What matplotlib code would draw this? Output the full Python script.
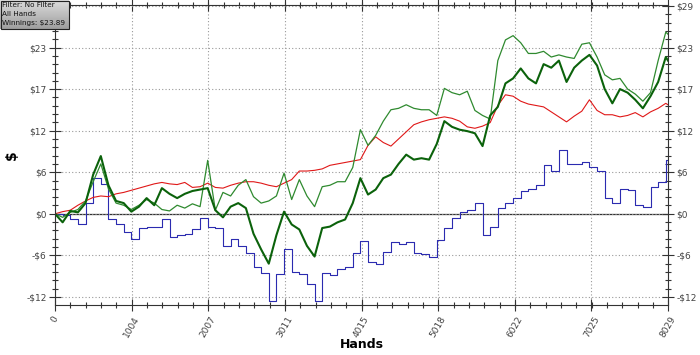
import numpy as np
import matplotlib
matplotlib.use('Agg')
import matplotlib.pyplot as plt
from matplotlib.ticker import AutoMinorLocator
from matplotlib.patches import Rectangle

# hands played (x axis), sampled every 100 hands
hands = [0, 100, 200, 300, 400, 500, 600, 700, 800, 900,
         1000, 1100, 1200, 1300, 1400, 1500, 1600, 1700, 1800, 1900,
         2000, 2100, 2200, 2300, 2400, 2500, 2600, 2700, 2800, 2900,
         3000, 3100, 3200, 3300, 3400, 3500, 3600, 3700, 3800, 3900,
         4000, 4100, 4200, 4300, 4400, 4500, 4600, 4700, 4800, 4900,
         5000, 5100, 5200, 5300, 5400, 5500, 5600, 5700, 5800, 5900,
         6000, 6100, 6200, 6300, 6400, 6500, 6600, 6700, 6800, 6900,
         7000, 7100, 7200, 7300, 7400, 7500, 7600, 7700, 7800, 7900,
         8000, 8029]

# red line
red_vals = [0.0, 0.3, 0.5, 1.2, 1.8, 2.3, 2.5, 2.4, 2.8, 3.0,
            3.3, 3.6, 3.9, 4.2, 4.4, 4.2, 4.1, 4.4, 3.7, 3.8,
            4.3, 3.7, 3.6, 4.0, 4.3, 4.5, 4.5, 4.3, 4.0, 3.8,
            4.3, 4.8, 6.0, 6.0, 6.1, 6.3, 6.8, 7.0, 7.2, 7.4,
            7.6, 9.6, 10.8, 10.0, 9.5, 10.5, 11.5, 12.5, 12.9, 13.2,
            13.4, 13.6, 13.4, 13.0, 12.2, 12.0, 12.3, 12.8, 15.2, 16.7,
            16.5, 15.8, 15.4, 15.2, 15.0, 14.3, 13.6, 12.9, 13.7, 14.4,
            16.0, 14.5, 13.9, 13.9, 13.6, 13.8, 14.2, 13.6, 14.3, 14.8,
            15.5, 15.3]

# blue line
blue_vals = [0.0, -0.2, -0.8, -1.4, 1.5, 5.0, 4.2, -0.8, -1.5, -2.5,
             -3.6, -2.0, -1.8, -1.9, -0.8, -3.2, -3.0, -2.9, -2.2, -0.6,
             -1.8, -2.0, -4.5, -3.5, -4.5, -5.5, -7.5, -8.3, -12.2, -8.5,
             -5.0, -8.2, -8.5, -9.8, -12.3, -8.3, -8.6, -7.8, -7.5, -5.5,
             -3.8, -6.8, -7.0, -5.3, -4.0, -4.2, -4.0, -5.5, -5.6, -6.0,
             -3.7, -2.0, -0.6, 0.2, 0.6, 1.5, -3.0, -1.8, 0.8, 1.5,
             2.2, 3.2, 3.5, 4.0, 6.8, 6.0, 9.0, 7.0, 7.0, 7.2,
             6.5, 6.0, 2.2, 1.5, 3.5, 3.3, 1.3, 1.0, 3.8, 4.5,
             7.5, 6.0]

# thin green line
green_vals = [0.0, -0.5, 0.2, 0.6, 1.8, 4.5, 7.0, 3.5, 1.5, 1.2,
              0.6, 1.2, 2.0, 1.5, 0.6, 0.4, 1.2, 0.8, 1.4, 1.0,
              7.5, 0.5, 3.0, 2.5, 4.0, 4.8, 2.4, 1.5, 1.8, 2.5,
              5.7, 2.0, 4.8, 2.5, 1.0, 3.8, 4.0, 4.5, 4.5, 6.5,
              11.8, 9.6, 11.0, 13.0, 14.6, 14.8, 15.3, 14.8, 14.6, 14.6,
              13.8, 17.6, 17.0, 16.7, 17.2, 14.5, 13.8, 13.3, 21.5, 24.4,
              25.0, 24.0, 22.5, 22.5, 22.8, 22.0, 22.3, 22.0, 21.8, 23.8,
              24.0, 22.0, 19.5, 18.8, 19.0, 17.5, 16.8, 15.8, 17.0, 21.5,
              25.5, 25.2]

# thick dark green line
dkgreen_vals = [0.0, -1.2, 0.4, 0.2, 1.5, 5.5, 8.1, 4.0, 1.8, 1.5,
                0.3, 1.0, 2.2, 1.2, 3.6, 2.8, 2.2, 2.8, 3.2, 3.4,
                3.6, 0.5, -0.5, 1.0, 1.5, 0.8, -2.8, -5.0, -7.0, -3.0,
                0.3, -1.5, -2.2, -4.5, -6.0, -2.0, -1.8, -1.2, -0.8, 1.5,
                5.0, 2.7, 3.4, 5.0, 5.5, 7.0, 8.3, 7.6, 7.8, 7.6,
                9.8, 13.0, 12.2, 11.8, 11.6, 11.3, 9.5, 13.8, 15.0, 18.3,
                19.0, 20.4, 19.0, 18.3, 21.0, 20.5, 21.5, 18.5, 20.5, 21.5,
                22.3, 20.8, 17.5, 15.5, 17.5, 17.0, 16.0, 14.8, 16.5, 18.5,
                22.0, 21.5]

x_ticks = [0, 1004, 2007, 3011, 4015, 5018, 6022, 7025, 8029]
y_ticks = [-11.66, -5.83, 0, 5.83, 11.66, 17.49, 23.32, 29.15]
y_labels = ['-$12', '-$6', '$0', '$6', '$12', '$17', '$23', '$29']
info_lines = ['Filter: No Filter', 'All Hands', 'Winnings: $23.89']

fig = plt.figure(figsize=(7, 3.55), dpi=100)
ax = fig.add_axes([55 / 700, 50 / 355, 613 / 700, 300 / 355])

ax.plot(hands, blue_vals, color='#2b2bb0', lw=0.8, drawstyle='steps-post')
ax.plot(hands, red_vals, color='#e01818', lw=0.8)
ax.plot(hands, green_vals, color='#2f8a2f', lw=0.9)
ax.plot(hands, dkgreen_vals, color='#0b620b', lw=1.5)
ax.axhline(0, color='#333333', lw=0.9, zorder=1)

ax.set_xlim(0, 8029)
ax.set_ylim(-12.8, 29.3)
ax.set_xticks(x_ticks)
ax.set_xticklabels([str(t) for t in x_ticks], rotation=60, ha='center', va='top')
ax.set_yticks(y_ticks)
ax.set_yticklabels(y_labels)
ax.xaxis.set_minor_locator(AutoMinorLocator(5))
ax.yaxis.set_minor_locator(AutoMinorLocator(5))

ax.tick_params(axis='both', which='both', direction='inout', colors='#333333',
               labelsize=6.5, labelcolor='#444444')
ax.tick_params(axis='both', which='major', length=8, width=0.8)
ax.tick_params(axis='both', which='minor', length=5, width=0.8)
ax.tick_params(axis='y', which='both', left=True, right=True,
               labelleft=True, labelright=True, pad=2)
ax.tick_params(axis='x', which='both', top=True, pad=3)
# the top left label sits under the info box in the original
ax.yaxis.get_major_ticks()[-1].label1.set_visible(False)

ax.grid(True, which='major', color='#999999', linestyle=(0, (1, 2)), lw=0.8)
for sp in ax.spines.values():
    sp.set_color('#333333')
    sp.set_linewidth(0.8)

fig.text(12 / 700, 1 - 155 / 355, '$', rotation=90, fontsize=10,
         fontweight='bold', ha='center', va='center')
fig.text(362 / 700, 1 - 345 / 355, 'Hands', fontsize=9, fontweight='bold',
         ha='center', va='center')

# info box in the top left corner (gradient + border + three lines)
box_w, box_h = 69, 29
grad = np.repeat(np.linspace(0.86, 0.62, box_h).reshape(-1, 1), box_w, axis=1)
fig.figimage(grad, xo=0, yo=355 - box_h, cmap='gray', vmin=0, vmax=1,
             origin='upper', zorder=5)
fig.add_artist(Rectangle((0.5 / 700, 1 - box_h / 355), (box_w - 1) / 700,
                         box_h / 355 - 0.5 / 355, transform=fig.transFigure,
                         facecolor='none', edgecolor='#222222', lw=0.8, zorder=6))
for i, line in enumerate(info_lines):
    fig.text(1.5 / 700, 1 - (5 + i * 9.2) / 355, line, fontsize=5.2,
             va='center', ha='left', color='#111111', zorder=7)

fig.savefig('out.png', dpi=100)
